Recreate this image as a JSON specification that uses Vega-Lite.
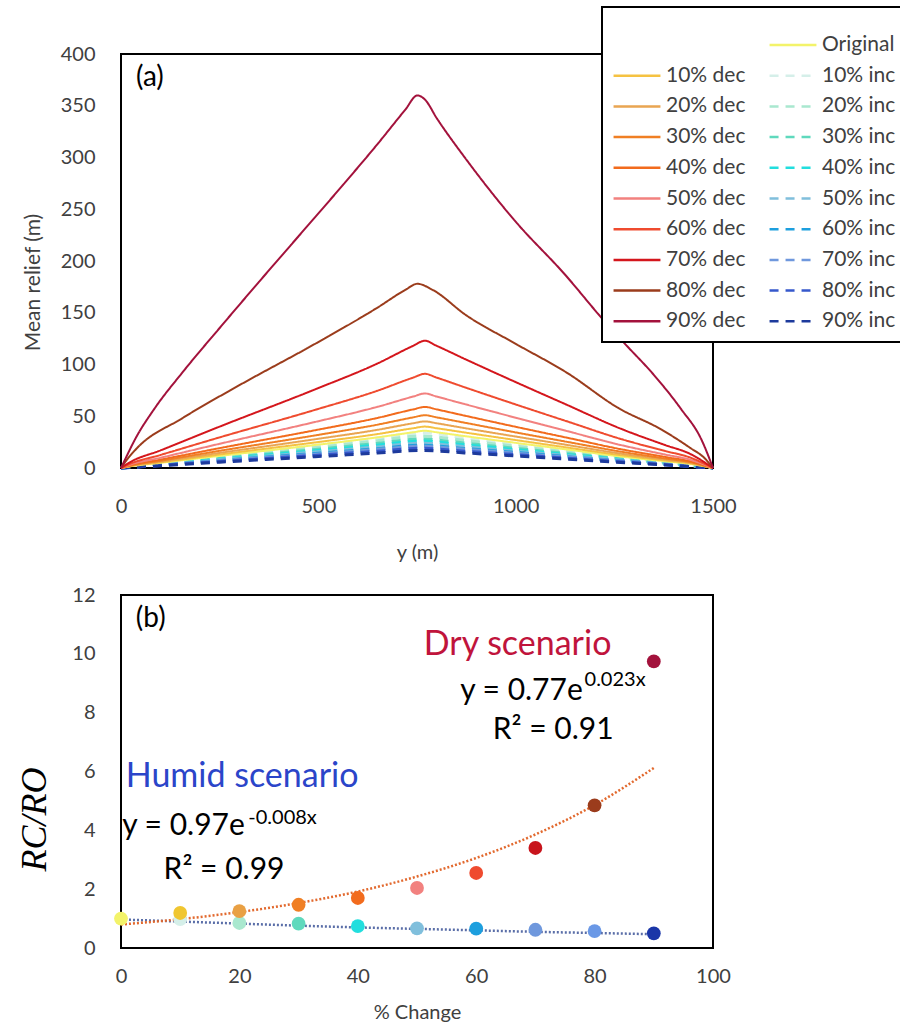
{
  "$schema": "https://vega.github.io/schema/vega-lite/v6.json",
  "padding": {"left": 15, "top": 5, "right": 0, "bottom": 0},
  "background": "white",
  "config": {
    "font": "Lato",
    "view": {"stroke": "#000", "strokeWidth": 2},
    "legend": {"strokeWidth": 2},
    "axis": {"grid": false, "domain": false, "ticks": false, "labelFontSize": 20, "labelColor": "#404040", "titleFontSize": 20, "titleColor": "#404040", "titleFontWeight": "normal", "labelFlush": false, "labelOverlap": false}
  },
  "datasets": {
    "relief": [
      {"s":"10% inc","x":0,"y":0},{"s":"10% inc","x":100,"y":4.4},{"s":"10% inc","x":250,"y":11.2},{"s":"10% inc","x":492,"y":21.8},{"s":"10% inc","x":650,"y":28.9},{"s":"10% inc","x":760,"y":34},{"s":"10% inc","x":870,"y":29.2},{"s":"10% inc","x":1000,"y":23.1},{"s":"10% inc","x":1130,"y":17},{"s":"10% inc","x":1266,"y":10.9},{"s":"10% inc","x":1380,"y":5.8},{"s":"10% inc","x":1500,"y":0},
      {"s":"20% inc","x":0,"y":0},{"s":"20% inc","x":100,"y":4},{"s":"20% inc","x":250,"y":10.2},{"s":"20% inc","x":492,"y":19.8},{"s":"20% inc","x":650,"y":26.4},{"s":"20% inc","x":760,"y":31},{"s":"20% inc","x":870,"y":26.7},{"s":"20% inc","x":1000,"y":21.1},{"s":"20% inc","x":1130,"y":15.5},{"s":"20% inc","x":1266,"y":9.9},{"s":"20% inc","x":1380,"y":5.3},{"s":"20% inc","x":1500,"y":0},
      {"s":"30% inc","x":0,"y":0},{"s":"30% inc","x":100,"y":3.6},{"s":"30% inc","x":250,"y":9.2},{"s":"30% inc","x":492,"y":17.9},{"s":"30% inc","x":650,"y":23.8},{"s":"30% inc","x":760,"y":28},{"s":"30% inc","x":870,"y":24.1},{"s":"30% inc","x":1000,"y":19},{"s":"30% inc","x":1130,"y":14},{"s":"30% inc","x":1266,"y":9},{"s":"30% inc","x":1380,"y":4.8},{"s":"30% inc","x":1500,"y":0},
      {"s":"40% inc","x":0,"y":0},{"s":"40% inc","x":100,"y":3.4},{"s":"40% inc","x":250,"y":8.6},{"s":"40% inc","x":492,"y":16.6},{"s":"40% inc","x":650,"y":22.1},{"s":"40% inc","x":760,"y":26},{"s":"40% inc","x":870,"y":22.4},{"s":"40% inc","x":1000,"y":17.7},{"s":"40% inc","x":1130,"y":13},{"s":"40% inc","x":1266,"y":8.3},{"s":"40% inc","x":1380,"y":4.4},{"s":"40% inc","x":1500,"y":0},
      {"s":"50% inc","x":0,"y":0},{"s":"50% inc","x":100,"y":3.1},{"s":"50% inc","x":250,"y":7.9},{"s":"50% inc","x":492,"y":15.4},{"s":"50% inc","x":650,"y":20.4},{"s":"50% inc","x":760,"y":24},{"s":"50% inc","x":870,"y":20.6},{"s":"50% inc","x":1000,"y":16.3},{"s":"50% inc","x":1130,"y":12},{"s":"50% inc","x":1266,"y":7.7},{"s":"50% inc","x":1380,"y":4.1},{"s":"50% inc","x":1500,"y":0},
      {"s":"60% inc","x":0,"y":0},{"s":"60% inc","x":100,"y":2.9},{"s":"60% inc","x":250,"y":7.3},{"s":"60% inc","x":492,"y":14.1},{"s":"60% inc","x":650,"y":18.7},{"s":"60% inc","x":760,"y":22},{"s":"60% inc","x":870,"y":18.9},{"s":"60% inc","x":1000,"y":15},{"s":"60% inc","x":1130,"y":11},{"s":"60% inc","x":1266,"y":7},{"s":"60% inc","x":1380,"y":3.7},{"s":"60% inc","x":1500,"y":0},
      {"s":"70% inc","x":0,"y":0},{"s":"70% inc","x":100,"y":2.7},{"s":"70% inc","x":250,"y":6.9},{"s":"70% inc","x":492,"y":13.4},{"s":"70% inc","x":650,"y":17.9},{"s":"70% inc","x":760,"y":21},{"s":"70% inc","x":870,"y":18.1},{"s":"70% inc","x":1000,"y":14.3},{"s":"70% inc","x":1130,"y":10.5},{"s":"70% inc","x":1266,"y":6.7},{"s":"70% inc","x":1380,"y":3.6},{"s":"70% inc","x":1500,"y":0},
      {"s":"80% inc","x":0,"y":0},{"s":"80% inc","x":100,"y":2.5},{"s":"80% inc","x":250,"y":6.3},{"s":"80% inc","x":492,"y":12.2},{"s":"80% inc","x":650,"y":16.2},{"s":"80% inc","x":760,"y":19},{"s":"80% inc","x":870,"y":16.3},{"s":"80% inc","x":1000,"y":12.9},{"s":"80% inc","x":1130,"y":9.5},{"s":"80% inc","x":1266,"y":6.1},{"s":"80% inc","x":1380,"y":3.2},{"s":"80% inc","x":1500,"y":0},
      {"s":"90% inc","x":0,"y":0},{"s":"90% inc","x":100,"y":2.2},{"s":"90% inc","x":250,"y":5.6},{"s":"90% inc","x":492,"y":10.9},{"s":"90% inc","x":650,"y":14.5},{"s":"90% inc","x":760,"y":17},{"s":"90% inc","x":870,"y":14.6},{"s":"90% inc","x":1000,"y":11.6},{"s":"90% inc","x":1130,"y":8.5},{"s":"90% inc","x":1266,"y":5.4},{"s":"90% inc","x":1380,"y":2.9},{"s":"90% inc","x":1500,"y":0},
      {"s":"Original","x":0,"y":0},{"s":"Original","x":20,"y":1.4},{"s":"Original","x":100,"y":5},{"s":"Original","x":250,"y":11.7},{"s":"Original","x":492,"y":22.2},{"s":"Original","x":650,"y":29.6},{"s":"Original","x":740,"y":34.5},{"s":"Original","x":770,"y":36},{"s":"Original","x":800,"y":34.5},{"s":"Original","x":873,"y":30.7},{"s":"Original","x":1000,"y":24.3},{"s":"Original","x":1130,"y":17.9},{"s":"Original","x":1266,"y":11.1},{"s":"Original","x":1380,"y":6.4},{"s":"Original","x":1440,"y":4.1},{"s":"Original","x":1500,"y":0},
      {"s":"10% dec","x":0,"y":0},{"s":"10% dec","x":20,"y":1.6},{"s":"10% dec","x":100,"y":5.5},{"s":"10% dec","x":250,"y":13},{"s":"10% dec","x":492,"y":24.7},{"s":"10% dec","x":650,"y":32.8},{"s":"10% dec","x":740,"y":38.4},{"s":"10% dec","x":770,"y":40},{"s":"10% dec","x":800,"y":38.4},{"s":"10% dec","x":873,"y":34.2},{"s":"10% dec","x":1000,"y":27},{"s":"10% dec","x":1130,"y":19.8},{"s":"10% dec","x":1266,"y":12.4},{"s":"10% dec","x":1380,"y":7.2},{"s":"10% dec","x":1440,"y":4.6},{"s":"10% dec","x":1500,"y":0},
      {"s":"20% dec","x":0,"y":0},{"s":"20% dec","x":20,"y":1.8},{"s":"20% dec","x":100,"y":6.2},{"s":"20% dec","x":250,"y":14.6},{"s":"20% dec","x":492,"y":27.8},{"s":"20% dec","x":650,"y":36.9},{"s":"20% dec","x":740,"y":43.2},{"s":"20% dec","x":770,"y":45},{"s":"20% dec","x":800,"y":43.2},{"s":"20% dec","x":873,"y":38.4},{"s":"20% dec","x":1000,"y":30.4},{"s":"20% dec","x":1130,"y":22.3},{"s":"20% dec","x":1266,"y":13.9},{"s":"20% dec","x":1380,"y":8.1},{"s":"20% dec","x":1440,"y":5.1},{"s":"20% dec","x":1500,"y":0},
      {"s":"30% dec","x":0,"y":0},{"s":"30% dec","x":20,"y":2},{"s":"30% dec","x":100,"y":7},{"s":"30% dec","x":250,"y":16.6},{"s":"30% dec","x":492,"y":31.5},{"s":"30% dec","x":650,"y":41.9},{"s":"30% dec","x":740,"y":48.9},{"s":"30% dec","x":770,"y":51},{"s":"30% dec","x":800,"y":48.9},{"s":"30% dec","x":873,"y":43.6},{"s":"30% dec","x":1000,"y":34.4},{"s":"30% dec","x":1130,"y":25.3},{"s":"30% dec","x":1266,"y":15.8},{"s":"30% dec","x":1380,"y":9.1},{"s":"30% dec","x":1440,"y":5.8},{"s":"30% dec","x":1500,"y":0},
      {"s":"40% dec","x":0,"y":0},{"s":"40% dec","x":20,"y":2.4},{"s":"40% dec","x":100,"y":8.1},{"s":"40% dec","x":250,"y":19.2},{"s":"40% dec","x":492,"y":36.5},{"s":"40% dec","x":650,"y":48.4},{"s":"40% dec","x":740,"y":56.6},{"s":"40% dec","x":770,"y":59},{"s":"40% dec","x":800,"y":56.6},{"s":"40% dec","x":873,"y":50.4},{"s":"40% dec","x":1000,"y":39.8},{"s":"40% dec","x":1130,"y":29.3},{"s":"40% dec","x":1266,"y":18.2},{"s":"40% dec","x":1380,"y":10.6},{"s":"40% dec","x":1440,"y":6.7},{"s":"40% dec","x":1500,"y":0},
      {"s":"50% dec","x":0,"y":0},{"s":"50% dec","x":20,"y":2.9},{"s":"50% dec","x":100,"y":9.9},{"s":"50% dec","x":250,"y":23.4},{"s":"50% dec","x":492,"y":44.5},{"s":"50% dec","x":650,"y":59.1},{"s":"50% dec","x":740,"y":69},{"s":"50% dec","x":770,"y":72},{"s":"50% dec","x":800,"y":69},{"s":"50% dec","x":873,"y":61.5},{"s":"50% dec","x":1000,"y":48.6},{"s":"50% dec","x":1130,"y":35.7},{"s":"50% dec","x":1266,"y":22.2},{"s":"50% dec","x":1380,"y":12.9},{"s":"50% dec","x":1440,"y":8.2},{"s":"50% dec","x":1500,"y":0},
      {"s":"60% dec","x":0,"y":0},{"s":"60% dec","x":20,"y":3.6},{"s":"60% dec","x":100,"y":12.6},{"s":"60% dec","x":250,"y":29.6},{"s":"60% dec","x":492,"y":56.2},{"s":"60% dec","x":650,"y":74.7},{"s":"60% dec","x":740,"y":87.3},{"s":"60% dec","x":770,"y":91},{"s":"60% dec","x":800,"y":87.3},{"s":"60% dec","x":873,"y":77.7},{"s":"60% dec","x":1000,"y":61.4},{"s":"60% dec","x":1130,"y":45.1},{"s":"60% dec","x":1266,"y":28.1},{"s":"60% dec","x":1380,"y":16.3},{"s":"60% dec","x":1440,"y":10.4},{"s":"60% dec","x":1500,"y":0},
      {"s":"70% dec","x":0,"y":0},{"s":"70% dec","x":20,"y":5},{"s":"70% dec","x":100,"y":17},{"s":"70% dec","x":250,"y":40},{"s":"70% dec","x":492,"y":76},{"s":"70% dec","x":650,"y":101},{"s":"70% dec","x":740,"y":118},{"s":"70% dec","x":770,"y":123},{"s":"70% dec","x":800,"y":118},{"s":"70% dec","x":873,"y":105},{"s":"70% dec","x":1000,"y":83},{"s":"70% dec","x":1130,"y":61},{"s":"70% dec","x":1266,"y":38},{"s":"70% dec","x":1380,"y":22},{"s":"70% dec","x":1440,"y":14},{"s":"70% dec","x":1500,"y":0},
      {"s":"80% dec","x":0,"y":0},{"s":"80% dec","x":15,"y":8},{"s":"80% dec","x":40,"y":19},{"s":"80% dec","x":155,"y":48},{"s":"80% dec","x":300,"y":80},{"s":"80% dec","x":492,"y":120},{"s":"80% dec","x":650,"y":155},{"s":"80% dec","x":720,"y":172},{"s":"80% dec","x":751,"y":178},{"s":"80% dec","x":790,"y":172},{"s":"80% dec","x":873,"y":148},{"s":"80% dec","x":1000,"y":120},{"s":"80% dec","x":1130,"y":92},{"s":"80% dec","x":1260,"y":58},{"s":"80% dec","x":1370,"y":37},{"s":"80% dec","x":1440,"y":20},{"s":"80% dec","x":1480,"y":9},{"s":"80% dec","x":1500,"y":0},
      {"s":"90% dec","x":0,"y":0},{"s":"90% dec","x":10,"y":8},{"s":"90% dec","x":36,"y":28},{"s":"90% dec","x":86,"y":58},{"s":"90% dec","x":155,"y":92},{"s":"90% dec","x":256,"y":138},{"s":"90% dec","x":350,"y":180},{"s":"90% dec","x":450,"y":224},{"s":"90% dec","x":550,"y":268},{"s":"90% dec","x":650,"y":313},{"s":"90% dec","x":720,"y":346},{"s":"90% dec","x":751,"y":360},{"s":"90% dec","x":770,"y":356},{"s":"90% dec","x":800,"y":338},{"s":"90% dec","x":873,"y":299},{"s":"90% dec","x":1000,"y":238},{"s":"90% dec","x":1127,"y":186},{"s":"90% dec","x":1211,"y":148},{"s":"90% dec","x":1272,"y":122},{"s":"90% dec","x":1350,"y":90},{"s":"90% dec","x":1419,"y":57},{"s":"90% dec","x":1470,"y":28},{"s":"90% dec","x":1500,"y":0}
    ],
    "ratio": [
      {"k":"10% inc","x":10,"y":0.98},{"k":"20% inc","x":20,"y":0.85},{"k":"30% inc","x":30,"y":0.83},{"k":"40% inc","x":40,"y":0.74},{"k":"50% inc","x":50,"y":0.67},{"k":"60% inc","x":60,"y":0.66},{"k":"70% inc","x":70,"y":0.62},{"k":"80% inc","x":80,"y":0.57},{"k":"90% inc","x":90,"y":0.5},
      {"k":"Original","x":0,"y":1.0},
      {"k":"10% dec","x":10,"y":1.19},{"k":"20% dec","x":20,"y":1.25},{"k":"30% dec","x":30,"y":1.47},{"k":"40% dec","x":40,"y":1.7},{"k":"50% dec","x":50,"y":2.04},{"k":"60% dec","x":60,"y":2.55},{"k":"70% dec","x":70,"y":3.4},{"k":"80% dec","x":80,"y":4.85},{"k":"90% dec","x":90,"y":9.74}
    ],
    "trend": [
      {"t":"humid","x":0,"y":0.97},{"t":"humid","x":10,"y":0.9},{"t":"humid","x":20,"y":0.83},{"t":"humid","x":30,"y":0.76},{"t":"humid","x":40,"y":0.7},{"t":"humid","x":50,"y":0.65},{"t":"humid","x":60,"y":0.6},{"t":"humid","x":70,"y":0.55},{"t":"humid","x":80,"y":0.51},{"t":"humid","x":90,"y":0.47},
      {"t":"dry","x":0,"y":0.8},{"t":"dry","x":10,"y":0.98},{"t":"dry","x":20,"y":1.22},{"t":"dry","x":30,"y":1.53},{"t":"dry","x":40,"y":1.92},{"t":"dry","x":50,"y":2.43},{"t":"dry","x":60,"y":3.06},{"t":"dry","x":70,"y":3.86},{"t":"dry","x":80,"y":4.86},{"t":"dry","x":90,"y":6.12}
    ]
  },
  "bounds": "flush",
  "spacing": 127,
  "resolve": {
    "scale": {"color": "independent", "strokeDash": "independent", "x": "independent", "y": "independent"},
    "legend": {"color": "independent", "strokeDash": "independent"}
  },
  "vconcat": [
    {
      "width": 592,
      "height": 414,
      "layer": [
        {
          "data": {"name": "relief"},
          "transform": [{"filter": "indexof(datum.s, 'inc') >= 0"}],
          "mark": {"type": "line", "strokeWidth": 3, "interpolate": "monotone"},
          "encoding": {
            "x": {"field": "x", "type": "quantitative", "title": "y (m)", "scale": {"domain": [0, 1500], "nice": false}, "axis": {"values": [0, 500, 1000, 1500], "format": "d", "labelPadding": 28, "titleY": 74}},
            "y": {"field": "y", "type": "quantitative", "title": "Mean relief (m)", "scale": {"domain": [0, 400], "nice": false}, "axis": {"values": [0, 50, 100, 150, 200, 250, 300, 350, 400], "labelPadding": 26, "titleX": -78, "titleY": 228, "titleFontSize": 21}},
            "color": {"field": "s", "type": "nominal", "title": " ",
              "scale": {"domain": ["_","Original","10% dec","10% inc","20% dec","20% inc","30% dec","30% inc","40% dec","40% inc","50% dec","50% inc","60% dec","60% inc","70% dec","70% inc","80% dec","80% inc","90% dec","90% inc"],
                        "range": ["transparent","#f3f36a","#f5c242","#d5efe9","#e9a552","#a9e8cf","#f07f24","#5fd9bd","#f26b1d","#22dede","#f2817f","#80bfdc","#ef4b2f","#1d9fde","#d4161c","#6f98dd","#9b3c1c","#3658cc","#a3123c","#1d3a9c"]},
              "legend": {"orient": "none", "legendX": 481, "legendY": -47, "direction": "horizontal", "columns": 2, "symbolType": "stroke", "symbolSize": 2200, "symbolStrokeWidth": 2.5, "clipHeight": 24, "rowPadding": 6.7, "columnPadding": 20, "symbolOffset": 2, "labelOffset": 4, "labelFontSize": 21, "labelColor": "#404040", "labelLimit": 0, "padding": 8, "strokeColor": "#000", "fillColor": "white", "titleFontSize": 12, "titlePadding": 6, "labelExpr": "datum.label === '_' ? '' : datum.label"}},
            "strokeDash": {"field": "s", "type": "nominal", "title": " ",
              "scale": {"domain": ["_","Original","10% dec","10% inc","20% dec","20% inc","30% dec","30% inc","40% dec","40% inc","50% dec","50% inc","60% dec","60% inc","70% dec","70% inc","80% dec","80% inc","90% dec","90% inc"],
                        "range": [[1,0],[1,0],[1,0],[9,7],[1,0],[9,7],[1,0],[9,7],[1,0],[9,7],[1,0],[9,7],[1,0],[9,7],[1,0],[9,7],[1,0],[9,7],[1,0],[9,7]]},
              "legend": {"orient": "none", "legendX": 481, "legendY": -47, "direction": "horizontal", "columns": 2, "symbolType": "stroke", "symbolSize": 2200, "symbolStrokeWidth": 2.5, "clipHeight": 24, "rowPadding": 6.7, "columnPadding": 20, "symbolOffset": 2, "labelOffset": 4, "labelFontSize": 21, "labelColor": "#404040", "labelLimit": 0, "padding": 8, "strokeColor": "#000", "fillColor": "white", "titleFontSize": 12, "titlePadding": 6, "labelExpr": "datum.label === '_' ? '' : datum.label"}}
          }
        },
        {
          "data": {"name": "relief"},
          "transform": [{"filter": "indexof(datum.s, 'inc') < 0"}],
          "mark": {"type": "line", "strokeWidth": 2, "interpolate": "monotone"},
          "encoding": {
            "x": {"field": "x", "type": "quantitative", "title": "y (m)"},
            "y": {"field": "y", "type": "quantitative", "title": "Mean relief (m)"},
            "color": {"field": "s", "type": "nominal", "title": " "},
            "strokeDash": {"field": "s", "type": "nominal", "title": " "}
          }
        },
        {
          "data": {"values": [{}]},
          "mark": {"type": "text", "fontSize": 28, "align": "left", "baseline": "middle", "color": "#000"},
          "encoding": {"x": {"datum": 38, "type": "quantitative"}, "y": {"datum": 377, "type": "quantitative"}, "text": {"value": "(a)"}}
        }
      ]
    },
    {
      "width": 592,
      "height": 353,
      "layer": [
        {
          "data": {"name": "trend"},
          "transform": [{"filter": "datum.t === 'humid'"}],
          "mark": {"type": "line", "strokeDash": [2, 2], "strokeWidth": 2.5, "color": "#5a6ea8", "interpolate": "monotone"},
          "encoding": {
            "x": {"field": "x", "type": "quantitative", "title": "% Change", "scale": {"domain": [0, 100], "nice": false}, "axis": {"values": [0, 20, 40, 60, 80, 100], "labelPadding": 18, "titleY": 54}},
            "y": {"field": "y", "type": "quantitative", "title": "RC/RO", "scale": {"domain": [0, 12], "nice": false}, "axis": {"values": [0, 2, 4, 6, 8, 10, 12], "labelPadding": 26, "titleX": -68, "titleY": 224, "titleFont": "Liberation Serif", "titleFontStyle": "italic", "titleFontSize": 36, "titleColor": "#000"}}
          }
        },
        {
          "data": {"name": "trend"},
          "transform": [{"filter": "datum.t === 'dry'"}],
          "mark": {"type": "line", "strokeDash": [2, 2], "strokeWidth": 2.5, "color": "#e2692e", "interpolate": "monotone"},
          "encoding": {
            "x": {"field": "x", "type": "quantitative", "title": "% Change"},
            "y": {"field": "y", "type": "quantitative", "title": "RC/RO"}
          }
        },
        {
          "data": {"name": "ratio"},
          "mark": {"type": "circle", "size": 190, "opacity": 1},
          "encoding": {
            "x": {"field": "x", "type": "quantitative", "title": "% Change"},
            "y": {"field": "y", "type": "quantitative", "title": "RC/RO"},
            "color": {"field": "k", "type": "nominal", "legend": null,
              "scale": {"domain": ["Original","10% dec","10% inc","20% dec","20% inc","30% dec","30% inc","40% dec","40% inc","50% dec","50% inc","60% dec","60% inc","70% dec","70% inc","80% dec","80% inc","90% dec","90% inc"],
                        "range": ["#f3f36a","#f0c630","#d5efe9","#e9a044","#a9e8cf","#f07f24","#5fd9bd","#f26b1d","#22dede","#f2817f","#80bfdc","#ef4b2f","#1d9fde","#c8141c","#6f98dd","#9b3c1c","#6a98e6","#a3123c","#1a36a8"]}}
          }
        },
        {"data": {"values": [{}]}, "mark": {"type": "text", "fontSize": 28, "align": "left", "baseline": "middle", "color": "#000"},
         "encoding": {"x": {"datum": 2.5, "type": "quantitative"}, "y": {"datum": 11.2, "type": "quantitative"}, "text": {"value": "(b)"}}},
        {"data": {"values": [{}]}, "mark": {"type": "text", "fontSize": 34, "align": "center", "baseline": "middle", "color": "#c0143c"},
         "encoding": {"x": {"datum": 67, "type": "quantitative"}, "y": {"datum": 10.3, "type": "quantitative"}, "text": {"value": "Dry scenario"}}},
        {"data": {"values": [{}]}, "mark": {"type": "text", "fontSize": 30, "align": "right", "baseline": "middle", "color": "#000"},
         "encoding": {"x": {"datum": 78, "type": "quantitative"}, "y": {"datum": 8.75, "type": "quantitative"}, "text": {"value": "y = 0.77e"}}},
        {"data": {"values": [{}]}, "mark": {"type": "text", "fontSize": 20, "align": "left", "baseline": "middle", "color": "#000"},
         "encoding": {"x": {"datum": 78.3, "type": "quantitative"}, "y": {"datum": 9.1, "type": "quantitative"}, "text": {"value": "0.023x"}}},
        {"data": {"values": [{}]}, "mark": {"type": "text", "fontSize": 30, "align": "center", "baseline": "middle", "color": "#000"},
         "encoding": {"x": {"datum": 73, "type": "quantitative"}, "y": {"datum": 7.4, "type": "quantitative"}, "text": {"value": "R² = 0.91"}}},
        {"data": {"values": [{}]}, "mark": {"type": "text", "fontSize": 34, "align": "left", "baseline": "middle", "color": "#2b45c9"},
         "encoding": {"x": {"datum": 0.8, "type": "quantitative"}, "y": {"datum": 5.8, "type": "quantitative"}, "text": {"value": "Humid scenario"}}},
        {"data": {"values": [{}]}, "mark": {"type": "text", "fontSize": 30, "align": "left", "baseline": "middle", "color": "#000"},
         "encoding": {"x": {"datum": 0.2, "type": "quantitative"}, "y": {"datum": 4.15, "type": "quantitative"}, "text": {"value": "y = 0.97e"}}},
        {"data": {"values": [{}]}, "mark": {"type": "text", "fontSize": 20, "align": "left", "baseline": "middle", "color": "#000"},
         "encoding": {"x": {"datum": 21.5, "type": "quantitative"}, "y": {"datum": 4.42, "type": "quantitative"}, "text": {"value": "-0.008x"}}},
        {"data": {"values": [{}]}, "mark": {"type": "text", "fontSize": 30, "align": "center", "baseline": "middle", "color": "#000"},
         "encoding": {"x": {"datum": 17.4, "type": "quantitative"}, "y": {"datum": 2.65, "type": "quantitative"}, "text": {"value": "R² = 0.99"}}}
      ]
    }
  ]
}
